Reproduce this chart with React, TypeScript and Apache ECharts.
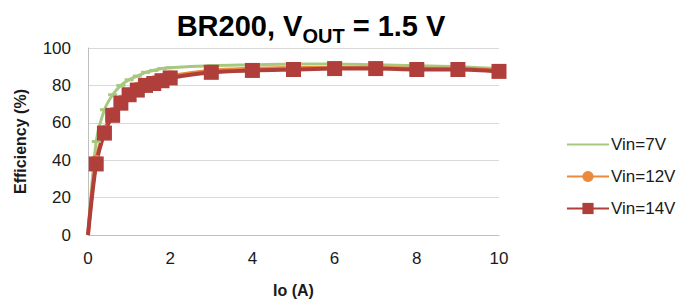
import React, { useEffect, useRef } from "react";
import * as echarts from "echarts";

const io = [0, 0.2, 0.4, 0.6, 0.8, 1.0, 1.2, 1.4, 1.6, 1.8, 2, 3, 4, 5, 6, 7, 8, 9, 10];
const eff7 = [0, 50, 67, 75, 80, 83, 85, 87, 88, 89, 89.5, 90.5, 91, 91.5, 91.5, 91, 90.5, 90, 89];
const eff12 = [0, 40, 56, 65.5, 72, 76, 79, 81, 82.5, 83.5, 85, 88, 89, 89.5, 89.5, 89.5, 89, 89, 88];
const eff14 = [0, 38, 54.5, 64, 70.5, 75, 77.5, 80, 81, 82.5, 84, 87, 88, 88.5, 89, 89, 88.5, 88.5, 87.5];
const seriesNames = ["Vin=7V", "Vin=12V", "Vin=14V"];

const pairs = (ys: number[]) =>
  io.map((x, i) => (x === 0 ? { value: [x, ys[i]], symbol: "none" } : [x, ys[i]]));

export default function App() {
  const ref = useRef<HTMLDivElement>(null);
  useEffect(() => {
    if (!ref.current) return;
    const chart = echarts.init(ref.current, null, { renderer: "svg" });
    const font = "Arial, 'Liberation Sans', sans-serif";
    chart.setOption({
      animation: false,
      textStyle: { fontFamily: font },
      title: {
        text: "{a|BR200, V}{b|OUT}{a| = 1.5 V}",
        left: 306,
        textAlign: "center",
        top: 3,
        textStyle: {
          rich: {
            a: { fontSize: 29, fontWeight: "bold", color: "#000", fontFamily: font, verticalAlign: "bottom", lineHeight: 32 },
            b: { fontSize: 20, fontWeight: "bold", color: "#000", fontFamily: font, verticalAlign: "bottom", lineHeight: 23, padding: [0, 0, -6, 0] },
          },
        },
      },
      legend: {
        orient: "vertical",
        left: 561,
        top: 131,
        itemWidth: 42,
        itemHeight: 14,
        itemGap: 15,
        data: [
          { name: seriesNames[0], itemStyle: { opacity: 0 } },
          { name: seriesNames[1] },
          { name: seriesNames[2] },
        ],
        textStyle: { fontSize: 17, color: "#1a1a1a", fontFamily: font, padding: [0, 0, 0, -3] },
      },
      grid: { left: 88, right: 185, top: 48, bottom: 68, containLabel: false },
      xAxis: {
        type: "value",
        min: 0,
        max: 10,
        interval: 2,
        name: "Io (A)",
        nameLocation: "middle",
        nameGap: 47,
        nameTextStyle: { fontSize: 16, fontWeight: "bold", color: "#1a1a1a", fontFamily: font },
        axisLine: { lineStyle: { color: "#bfbfbf", width: 1 } },
        axisTick: { show: false },
        splitLine: { show: false },
        axisLabel: { fontSize: 17, color: "#1a1a1a", margin: 15, fontFamily: font },
      },
      yAxis: {
        type: "value",
        min: 0,
        max: 100,
        interval: 20,
        name: "Efficiency (%)",
        nameLocation: "middle",
        nameGap: 60,
        nameTextStyle: { fontSize: 16, fontWeight: "bold", color: "#1a1a1a", fontFamily: font },
        axisLine: { show: true, lineStyle: { color: "#bfbfbf", width: 1 } },
        axisTick: { show: false },
        splitLine: { lineStyle: { color: "#d9d9d9", width: 1 } },
        axisLabel: { fontSize: 17, color: "#1a1a1a", margin: 17, fontFamily: font },
      },
      series: [
        {
          name: seriesNames[0],
          type: "line",
          data: pairs(eff7),
          lineStyle: { color: "#a8c882", width: 3 },
          itemStyle: { color: "#a8c882" },
          symbol: "rect",
          symbolSize: [9, 3],
          smooth: 0.3,
        },
        {
          name: seriesNames[1],
          type: "line",
          data: pairs(eff12),
          lineStyle: { color: "#eb8a3c", width: 3.5 },
          itemStyle: { color: "#eb8a3c" },
          symbol: "circle",
          symbolSize: 11,
          smooth: 0.3,
        },
        {
          name: seriesNames[2],
          type: "line",
          data: pairs(eff14),
          lineStyle: { color: "#b03f3b", width: 4 },
          itemStyle: { color: "#b03f3b" },
          symbol: "rect",
          symbolSize: 15,
          smooth: 0.3,
        },
      ],
    });
    return () => chart.dispose();
  }, []);
  return (
    <div
      ref={ref}
      style={{ position: "absolute", left: 0, top: 0, width: 684, height: 303 }}
    />
  );
}
